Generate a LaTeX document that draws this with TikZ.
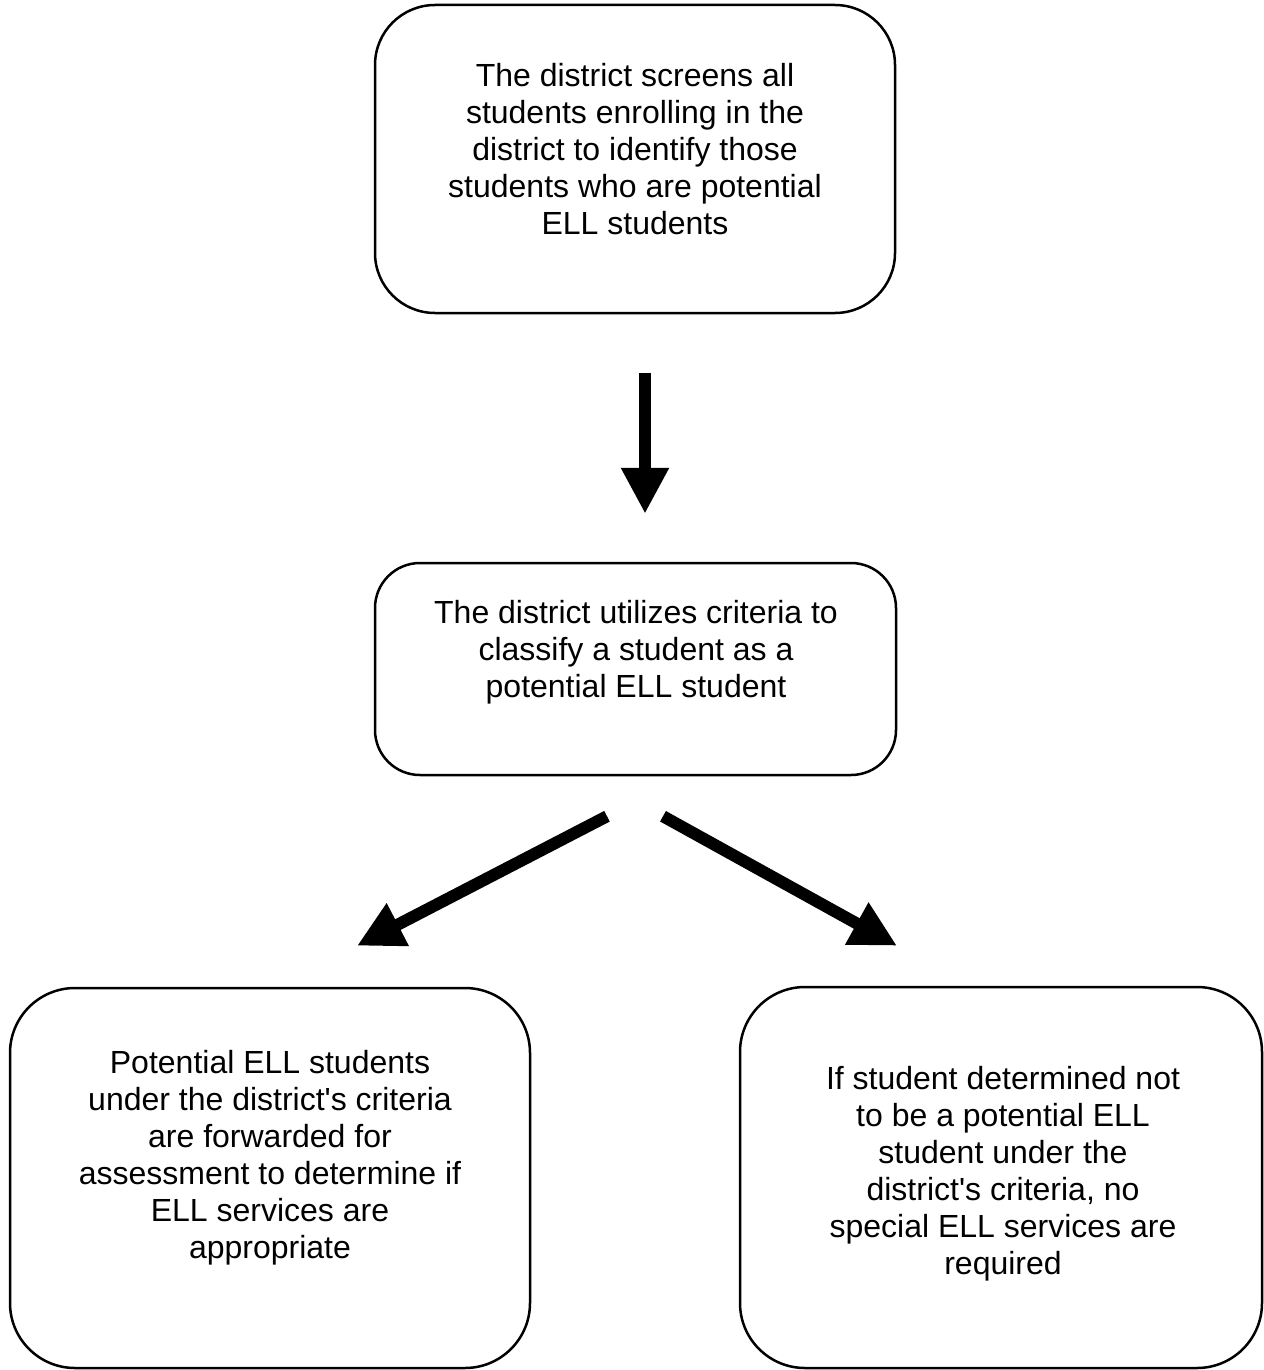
\documentclass[tikz,border=0pt]{standalone}
\usepackage{fontspec}
\setmainfont{Liberation Sans}
\usetikzlibrary{arrows.meta,calc}
\begin{document}
\begin{tikzpicture}[x=1pt,y=-1pt,
  box/.style={draw=black,line width=2.5pt,inner sep=0pt},
  txt/.style={align=center,inner sep=0pt,font=\fontsize{32}{37}\selectfont},
  bigarrow/.style={line width=12pt,-{Triangle[width=45pt,length=46pt]}}]
\useasboundingbox[fill=white] (0,0) rectangle (1263,1370);
\node[box,rounded corners=60pt,minimum width=520pt,minimum height=308pt] (b1) at (635,159) {};
\node[box,rounded corners=45pt,minimum width=521pt,minimum height=212pt] (b2) at (635.5,669) {};
\node[box,rounded corners=65pt,minimum width=520pt,minimum height=380pt] (b3) at (270,1178) {};
\node[box,rounded corners=65pt,minimum width=522pt,minimum height=381pt] (b4) at (1001,1177.5) {};
\node[txt] (t1) at (635,149) {The district screens all\\students enrolling in the\\district to identify those\\students who are potential\\ELL students};
\node[txt] (t2) at (636,652) {The district utilizes criteria to\\classify a student as a\\potential ELL student};
\node[txt] (t3) at (270,1158) {Potential ELL students\\under the district\textquotesingle s criteria\\are forwarded for\\assessment to determine if\\ELL services are\\appropriate};
\node[txt] (t4) at (1003,1174) {If student determined not\\to be a potential ELL\\student under the\\district\textquotesingle s criteria, no\\special ELL services are\\required};
\draw[bigarrow] ($(b1.south)+(10,59)$) -- ($(b2.north)+(9.5,-48)$);
\draw[bigarrow] ($(b2.south)+(-28.5,40)$) -- ($(b3.north)+(87,-41)$);
\draw[bigarrow] ($(b2.south)+(27.5,40)$) -- ($(b4.north)+(-104,-40)$);
\end{tikzpicture}
\end{document}
